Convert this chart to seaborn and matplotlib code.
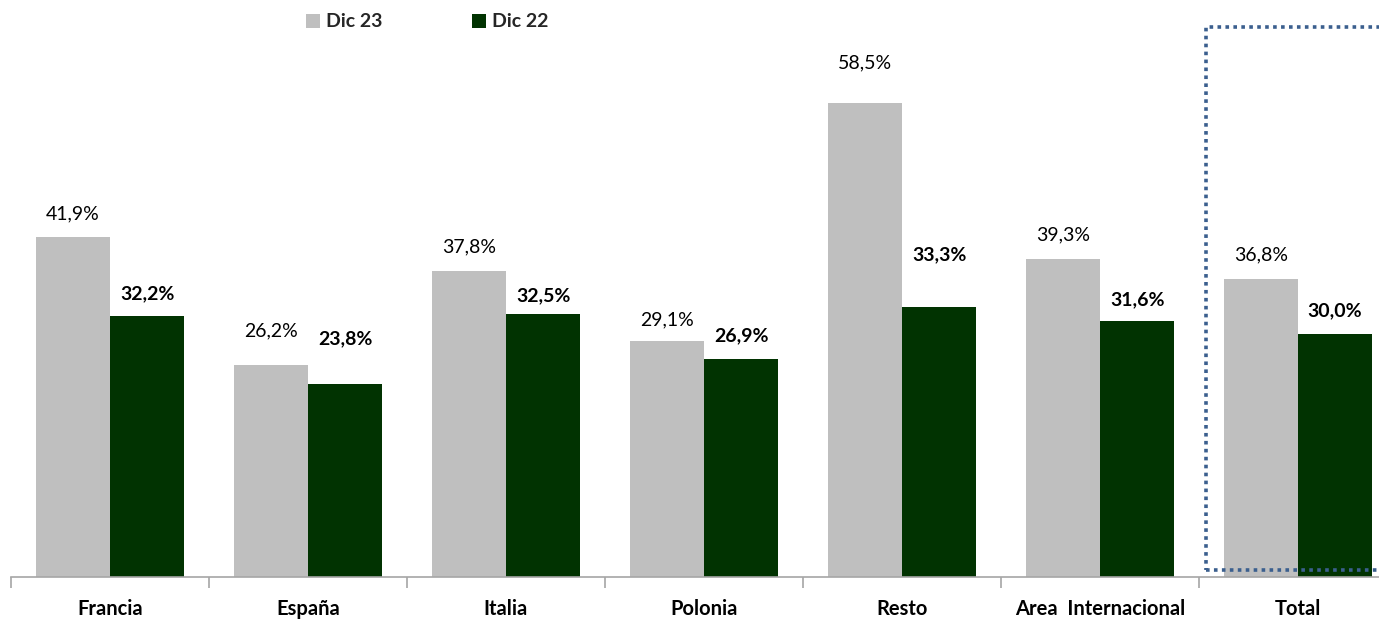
import numpy as np
import pandas as pd
import seaborn as sns
import matplotlib.pyplot as plt
from matplotlib.patches import Rectangle, Patch

regions = ["Francia", "España", "Italia", "Polonia", "Resto", "Area  Internacional", "Total"]
dic23 = [41.9, 26.2, 37.8, 29.1, 58.5, 39.3, 36.8]
dic22 = [32.2, 23.8, 32.5, 26.9, 33.3, 31.6, 30.0]
series = ["Dic 23", "Dic 22"]

# label offsets above bar tops (points), as placed in the original
off23 = [17, 24, 17, 15, 29, 17, 17]
off22 = [16, 33, 13, 17, 38, 15, 17]

df = pd.DataFrame({
    "region": regions * 2,
    "serie": [series[0]] * len(regions) + [series[1]] * len(regions),
    "valor": dic23 + dic22,
})

sns.set_theme(style="white")
plt.rcParams["font.family"] = ["Lato", "DejaVu Sans"]

W, H = 1379, 624
fig = plt.figure(figsize=(W / 100, H / 100), dpi=100)
ax = fig.add_axes([11 / W, 47 / H, 1386 / W, 65 * 8.103 / H])

colors = {"Dic 23": "#BFBFBF", "Dic 22": "#013301"}
sns.barplot(data=df, x="region", y="valor", hue="serie", palette=colors,
            width=0.75, gap=0, ax=ax, legend=False, saturation=1,
            linewidth=0, edgecolor="none")

ax.set_xlim(-0.5, 6.5)
ax.set_ylim(0, 65)
ax.set_xlabel("")
ax.set_ylabel("")
ax.set_yticks([])
for s in ["top", "right", "left"]:
    ax.spines[s].set_visible(False)
ax.spines["bottom"].set_color("#A6A6A6")
ax.spines["bottom"].set_linewidth(1.2)

ax.set_xticks(range(len(regions)))
ax.set_xticklabels(regions, fontsize=14.5, fontweight="bold", color="#000000")
ax.tick_params(axis="x", which="major", length=0, pad=16)
ax.set_xticks(np.arange(-0.5, len(regions)), minor=True)
ax.tick_params(axis="x", which="minor", length=8, width=1.2, color="#A6A6A6",
               direction="out", bottom=True)

bw = 0.375
for i in range(len(regions)):
    ax.annotate(f"{dic23[i]:.1f}%".replace(".", ","), (i - bw / 2, dic23[i]),
                xytext=(0, off23[i]), textcoords="offset points",
                ha="center", va="center", fontsize=14, color="#000000")
    ax.annotate(f"{dic22[i]:.1f}%".replace(".", ","), (i + bw / 2, dic22[i]),
                xytext=(0, off22[i]), textcoords="offset points",
                ha="center", va="center", fontsize=14, fontweight="bold",
                color="#000000")

# dotted box around the total
ax.add_patch(Rectangle((5.535, 0.86), 1.2, 67.0, fill=False, linestyle=(0, (1, 1.2)),
                       linewidth=2.6, edgecolor="#3B5F8E", clip_on=False))

handles = [Patch(facecolor=colors[s], edgecolor="none", label=s) for s in series]
fig.legend(handles=handles, loc="upper left", bbox_to_anchor=(288 / W, 1.0 + 4 / H),
           ncol=2, frameon=False, handlelength=0.75, handleheight=0.75,
           handletextpad=0.3, columnspacing=4.6,
           prop={"family": ["Lato", "DejaVu Sans"], "weight": "bold", "size": 14})

fig.savefig("out.png", dpi=100)
